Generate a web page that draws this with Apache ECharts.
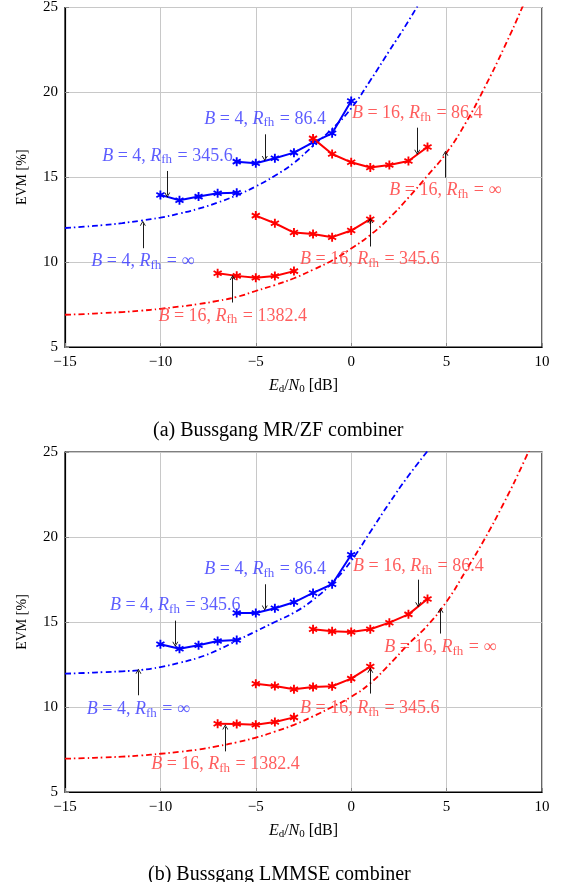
<!DOCTYPE html>
<html>
<head>
<meta charset="utf-8">
<title>EVM vs Ed/N0</title>
<script src="https://cdn.jsdelivr.net/npm/echarts@6/dist/echarts.min.js"></script>
<style>
  html, body { margin: 0; padding: 0; background: #fff; }
  #main { width: 569px; height: 882px; }
</style>
</head>
<body>
<div id="main"></div>
<script>
  // x values (Ed/N0 in dB)
  const snrInfB4 = [-15, -14, -13, -12, -11, -10, -9, -8, -7, -6, -5, -4, -3, -2, -1, 0, 1, 2, 3, 4];
  const snrInfB16 = [-15, -14, -13, -12, -11, -10, -9, -8, -7, -6, -5, -4, -3, -2, -1, 0, 1, 2, 3, 4, 5, 6, 7, 8, 9, 10];
  const snrB4R346 = [-10, -9, -8, -7, -6];
  const snrB4R86 = [-6, -5, -4, -3, -2, -1, 0];
  const snrB16R86 = [-2, -1, 0, 1, 2, 3, 4];
  const snrB16R346 = [-5, -4, -3, -2, -1, 0, 1];
  const snrB16R1382 = [-7, -6, -5, -4, -3];

  // (a) Bussgang MR/ZF combiner, EVM [%]
  const zfInfB4 = [12.01, 12.09, 12.18, 12.30, 12.45, 12.62, 12.86, 13.15, 13.51, 13.94, 14.46, 15.09, 15.85, 16.85, 17.85, 19.06, 20.7, 22.45, 24.2, 26.1];
  const zfInfB16 = [6.90, 6.94, 7.0, 7.06, 7.14, 7.25, 7.38, 7.53, 7.72, 7.95, 8.3, 8.65, 9.05, 9.55, 10.1, 10.8, 11.6, 12.6, 13.8, 15.1, 16.45, 18.2, 20.3, 22.6, 25.1, 27.8];
  const zfB4R346 = [13.96, 13.65, 13.86, 14.06, 14.08];
  const zfB4R86 = [15.92, 15.82, 16.12, 16.45, 17.06, 17.59, 19.49];
  const zfB16R86 = [17.29, 16.37, 15.88, 15.57, 15.72, 15.96, 16.78];
  const zfB16R346 = [12.74, 12.29, 11.74, 11.66, 11.47, 11.86, 12.53];
  const zfB16R1382 = [9.35, 9.19, 9.08, 9.18, 9.47];

  // (b) Bussgang LMMSE combiner, EVM [%]
  const lmInfB4 = [11.96, 12.0, 12.05, 12.1, 12.18, 12.35, 12.6, 12.9, 13.35, 13.9, 14.45, 15.0, 15.55, 16.3, 17.3, 18.6, 20.3, 22.0, 23.6, 25.05];
  const lmInfB16 = [6.96, 6.99, 7.03, 7.08, 7.15, 7.25, 7.36, 7.5, 7.7, 7.92, 8.2, 8.55, 8.95, 9.45, 10.0, 10.6, 11.4, 12.5, 13.7, 14.8, 16.2, 18.0, 19.9, 22.0, 24.3, 26.8];
  const lmB4R346 = [13.69, 13.43, 13.63, 13.88, 13.94];
  const lmB4R86 = [15.53, 15.53, 15.81, 16.16, 16.71, 17.22, 18.96];
  const lmB16R86 = [14.57, 14.45, 14.41, 14.57, 14.96, 15.45, 16.35];
  const lmB16R346 = [11.37, 11.24, 11.04, 11.18, 11.22, 11.67, 12.38];
  const lmB16R1382 = [9.02, 9.00, 8.96, 9.12, 9.39];

  // tick labels
  const xTicks = [-15, -10, -5, 0, 5, 10];
  const yTicks = [5, 10, 15, 20, 25];

  // annotation texts: [B, Rfh]
  const annoText = [['4', '86.4'], ['4', '345.6'], ['16', '86.4'], ['16', '\u221E'], ['4', '\u221E'], ['16', '345.6'], ['16', '1382.4']];
  const annoColor = ['blue', 'blue', 'red', 'red', 'blue', 'red', 'red'];
  // label anchors and arrows [x, yFrom, yTo] for (a) and (b)
  const zfLabelPos = [[-4.51, 18.43], [-9.63, 16.25], [3.46, 18.76], [4.93, 14.24], [-10.92, 10.04], [0.975, 10.14], [-6.21, 6.84]];
  const zfArrows = [[-4.53, 17.53, 16.1], [-9.64, 15.37, 13.96], [3.46, 17.92, 16.47], [4.94, 14.98, 16.41], [-10.92, 10.82, 12.29], [1.0, 10.92, 12.45], [-6.21, 7.62, 9.09]];
  const lmLabelPos = [[-4.51, 18.08], [-9.22, 15.98], [3.52, 18.28], [4.67, 13.49], [-11.16, 9.85], [0.975, 9.91], [-6.59, 6.61]];
  const lmArrows = [[-4.53, 17.22, 15.82], [-9.22, 15.08, 13.69], [3.51, 17.49, 16.02], [4.68, 14.32, 15.69], [-11.15, 10.69, 12.1], [1.0, 10.79, 12.16], [-6.6, 7.39, 8.82]];

  const BLUE = '#0000ff';
  const RED = '#ff0000';
  const textColors = { blue: '#3535ff', red: '#ff3535' };
  const SERIF = 'Liberation Serif';
  const asterisk = 'path://M-2,-10L2,-10L2,10L-2,10Z M-9.66,-3.27L-7.66,-6.73L9.66,3.27L7.66,6.73Z M7.66,-6.73L9.66,-3.27L-7.66,6.73L-9.66,3.27Z';
  const arrowHead = 'path://M0,10L5,0L10,10L8.6,10L5,3L1.4,10Z';

  const zip = (xs, ys) => xs.map((x, i) => [x, ys[i]]);

  function solid(idx, xs, ys, color) {
    return {
      type: 'line', xAxisIndex: idx, yAxisIndex: idx,
      data: zip(xs, ys),
      symbol: asterisk, symbolSize: 9, showSymbol: true,
      lineStyle: { color: color, width: 2 },
      itemStyle: { color: color },
      animation: false, silent: true, z: 3
    };
  }

  function dashed(idx, xs, ys, color) {
    return {
      type: 'line', xAxisIndex: idx, yAxisIndex: idx,
      data: zip(xs, ys), smooth: true,
      showSymbol: false, symbol: 'none', clip: true,
      lineStyle: { color: color, width: 1.8, type: [6, 3, 1.5, 3] },
      animation: false, silent: true, z: 2
    };
  }

  function labels(idx, pos) {
    return {
      type: 'scatter', xAxisIndex: idx, yAxisIndex: idx,
      symbolSize: 0, animation: false, silent: true, z: 5,
      data: pos.map((p, i) => ({
        value: p,
        label: {
          show: true, position: 'inside',
          formatter: '{i|B} = ' + annoText[i][0] + ', {i|R}{s|fh} = ' + annoText[i][1],
          color: textColors[annoColor[i]],
          fontFamily: SERIF, fontSize: 18,
          rich: {
            i: { fontStyle: 'italic', fontFamily: SERIF, fontSize: 18 },
            s: { fontFamily: SERIF, fontSize: 13, padding: [8, 1, 0, 0] }
          }
        }
      }))
    };
  }

  function arrows(idx, list) {
    return {
      type: 'line', xAxisIndex: idx, yAxisIndex: idx, data: [],
      animation: false, silent: true, z: 4,
      markLine: {
        silent: true, animation: false,
        symbol: ['none', arrowHead], symbolSize: [6, 5],
        label: { show: false },
        lineStyle: { color: '#000', width: 0.9, type: 'solid' },
        data: list.map(a => [{ coord: [a[0], a[1]] }, { coord: [a[0], a[2]] }])
      }
    };
  }

  const tickFmt = v => String(v).replace('-', '\u2212');

  function xAxis(idx) {
    return {
      type: 'value', gridIndex: idx, min: xTicks[0], max: xTicks[xTicks.length - 1], interval: 5,
      name: '{i|E}{s|d}/{i|N}{s|0} [dB]', nameLocation: 'middle', nameGap: 29,
      nameTextStyle: {
        color: '#000', fontFamily: SERIF, fontSize: 16,
        rich: {
          i: { fontStyle: 'italic', fontFamily: SERIF, fontSize: 16 },
          s: { fontFamily: SERIF, fontSize: 11, padding: [8, 0, 0, 0] }
        }
      },
      axisLine: { show: true, onZero: false, lineStyle: { color: '#000', width: 1.2 } },
      axisTick: { show: true, inside: true, length: 4, lineStyle: { color: '#888' } },
      axisLabel: { color: '#000', fontFamily: SERIF, fontSize: 15, margin: 8, formatter: tickFmt },
      splitLine: { show: true, lineStyle: { color: '#c8c8c8', width: 1 } }
    };
  }

  function yAxis(idx) {
    return {
      type: 'value', gridIndex: idx, min: yTicks[0], max: yTicks[yTicks.length - 1], interval: 5,
      name: 'EVM [%]', nameLocation: 'middle', nameGap: 36,
      nameTextStyle: { color: '#000', fontFamily: SERIF, fontSize: 14 },
      axisLine: { show: true, onZero: false, lineStyle: { color: '#000', width: 1.2 } },
      axisTick: { show: true, inside: true, length: 4, lineStyle: { color: '#888' } },
      axisLabel: { color: '#000', fontFamily: SERIF, fontSize: 15, margin: 7 },
      splitLine: { show: true, lineStyle: { color: '#c8c8c8', width: 1 } }
    };
  }

  const chart = echarts.init(document.getElementById('main'), null, { renderer: 'canvas' });
  chart.setOption({
    animation: false,
    backgroundColor: '#fff',
    title: [
      { text: '(a) Bussgang MR/ZF combiner', left: 148, top: 416,
        textStyle: { fontFamily: SERIF, fontSize: 20, fontWeight: 'normal', color: '#000' } },
      { text: '(b) Bussgang LMMSE combiner', left: 143, top: 860,
        textStyle: { fontFamily: SERIF, fontSize: 20, fontWeight: 'normal', color: '#000' } }
    ],
    grid: [
      { left: 65, top: 7, width: 477, height: 340, show: true, borderColor: '#000', borderWidth: 1.2, backgroundColor: 'transparent' },
      { left: 65, top: 452, width: 477, height: 340, show: true, borderColor: '#000', borderWidth: 1.2, backgroundColor: 'transparent' }
    ],
    xAxis: [xAxis(0), xAxis(1)],
    yAxis: [yAxis(0), yAxis(1)],
    series: [
      dashed(0, snrInfB4, zfInfB4, BLUE),
      dashed(0, snrInfB16, zfInfB16, RED),
      solid(0, snrB4R346, zfB4R346, BLUE),
      solid(0, snrB4R86, zfB4R86, BLUE),
      solid(0, snrB16R86, zfB16R86, RED),
      solid(0, snrB16R346, zfB16R346, RED),
      solid(0, snrB16R1382, zfB16R1382, RED),
      arrows(0, zfArrows),
      labels(0, zfLabelPos),

      dashed(1, snrInfB4, lmInfB4, BLUE),
      dashed(1, snrInfB16, lmInfB16, RED),
      solid(1, snrB4R346, lmB4R346, BLUE),
      solid(1, snrB4R86, lmB4R86, BLUE),
      solid(1, snrB16R86, lmB16R86, RED),
      solid(1, snrB16R346, lmB16R346, RED),
      solid(1, snrB16R1382, lmB16R1382, RED),
      arrows(1, lmArrows),
      labels(1, lmLabelPos)
    ]
  });
</script>
</body>
</html>
